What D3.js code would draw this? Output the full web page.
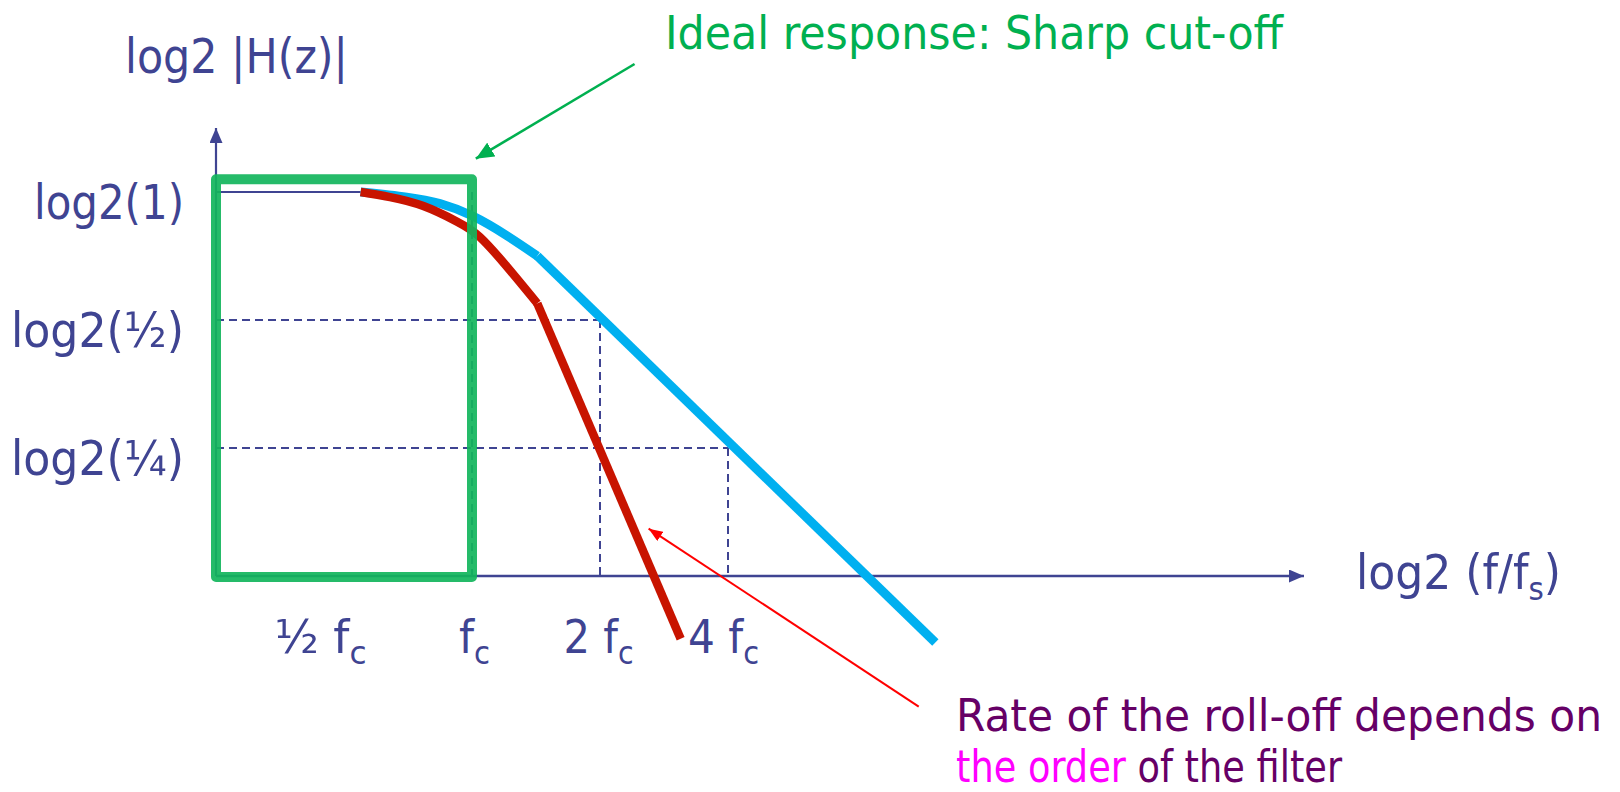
<!DOCTYPE html>
<html><head><meta charset="utf-8">
<script src="https://cdn.jsdelivr.net/npm/d3@7"></script>
<style>html,body{margin:0;padding:0;background:#fff;} svg{display:block;}</style>
</head><body>
<svg id="c" width="1620" height="792"></svg>
<script>
// ---- data (x: octaves relative to f_c, y: log2 |H|) ----
const xTickVals = [-1, 0, 1, 2];
const xTickMain = ["½ f", "f", "2 f", "4 f"];
const xTickSub = "c";
const yTickVals = [0, -1, -2];
const yTickLabels = ["log2(1)", "log2(½)", "log2(¼)"];
const passband = [[-2, 0], [-0.87, 0]];
const blueCurve = [[-0.87, 0], [-0.51, -0.04], [-0.25, -0.09], [0.01, -0.19], [0.27, -0.34], [0.51, -0.5]];
const blueTail = [[0.51, -0.5], [3.62, -3.52]];
const redCurve = [[-0.87, 0], [-0.64, -0.04], [-0.38, -0.11], [-0.12, -0.23], [0.06, -0.35], [0.27, -0.58], [0.51, -0.87]];
const redTail = [[0.51, -0.87], [1.63, -3.49]];
const guideLevels = [-1, -2];
const guideFreqs = [1, 2];
const idealBand = [-2, 0];
const idealTop = 0.1;
const axisMin = [-2, -3];
const axisMax = [6.5, 0.5];
const greenArrow = [[1.27, 1.0], [0.03, 0.26]];
const redArrow = [[3.49, -4.02], [1.38, -2.63]];

// ---- drawing ----
const navy = "#3f4492";
const FONT = "'DejaVu Sans Condensed', 'DejaVu Sans', sans-serif";
const svg = d3.select("#c");
const x = d3.scaleLinear().domain([axisMin[0], axisMax[0]]).range([216, 1304]);
const y = d3.scaleLinear().domain([axisMax[1], axisMin[1]]).range([128, 576]);

const defs = svg.append("defs");
function marker(id, len, wid, color) {
  defs.append("marker").attr("id", id).attr("markerUnits", "userSpaceOnUse")
    .attr("markerWidth", len).attr("markerHeight", wid)
    .attr("refX", len).attr("refY", wid / 2).attr("orient", "auto")
    .append("path").attr("d", `M0,0L${len},${wid / 2}L0,${wid}Z`).attr("fill", color);
}
marker("axArrow", 15, 13, navy);
marker("gArrow", 18, 16, "#00b050");
marker("rArrow", 14, 11, "#ff0000");

// dashed guides
const guides = svg.append("g").attr("stroke", navy).attr("stroke-width", 2)
  .attr("stroke-dasharray", "8,5").attr("fill", "none");
guideLevels.forEach((lv, i) => {
  guides.append("line").attr("x1", x(axisMin[0])).attr("x2", x(guideFreqs[i]))
    .attr("y1", y(lv)).attr("y2", y(lv));
  guides.append("line").attr("x1", x(guideFreqs[i])).attr("x2", x(guideFreqs[i]))
    .attr("y1", y(lv)).attr("y2", y(axisMin[1]));
});
guides.append("line").attr("x1", x(0)).attr("x2", x(0)).attr("y1", y(0)).attr("y2", y(axisMin[1]));

// passband reference line
const lin = d3.line().x(d => x(d[0])).y(d => y(d[1]));
const smooth = d3.line().x(d => x(d[0])).y(d => y(d[1])).curve(d3.curveNatural);
svg.append("path").attr("d", lin(passband)).attr("stroke", navy).attr("stroke-width", 2.2).attr("fill", "none");

// axes lines
svg.append("line").attr("x1", x(axisMin[0])).attr("y1", y(axisMin[1]))
  .attr("x2", x(axisMin[0])).attr("y2", y(axisMax[1]))
  .attr("stroke", navy).attr("stroke-width", 2.2).attr("marker-end", "url(#axArrow)");
svg.append("line").attr("x1", x(axisMin[0])).attr("y1", y(axisMin[1]))
  .attr("x2", x(axisMax[0])).attr("y2", y(axisMin[1]))
  .attr("stroke", navy).attr("stroke-width", 2.6).attr("marker-end", "url(#axArrow)");

// response curves
const blue = "#00b0f0", red = "#c81400";
svg.append("path").attr("d", smooth(blueCurve)).attr("stroke", blue).attr("stroke-width", 9).attr("fill", "none");
svg.append("path").attr("d", lin(blueTail)).attr("stroke", blue).attr("stroke-width", 9).attr("fill", "none");
svg.append("path").attr("d", smooth(redCurve)).attr("stroke", red).attr("stroke-width", 8.5).attr("fill", "none");
svg.append("path").attr("d", lin(redTail)).attr("stroke", red).attr("stroke-width", 8.5).attr("fill", "none");

// ideal response box
svg.append("rect").attr("x", x(idealBand[0])).attr("y", y(idealTop))
  .attr("width", x(idealBand[1]) - x(idealBand[0])).attr("height", y(axisMin[1]) + 1 - y(idealTop))
  .attr("fill", "none").attr("stroke", "#12b55c").attr("stroke-opacity", 0.92)
  .attr("stroke-width", 10).attr("stroke-linejoin", "round");

// annotation arrows
svg.append("path").attr("d", lin(greenArrow)).attr("stroke", "#00b050").attr("stroke-width", 2.6)
  .attr("marker-end", "url(#gArrow)");
svg.append("path").attr("d", lin(redArrow)).attr("stroke", "#ff0000").attr("stroke-width", 2)
  .attr("marker-end", "url(#rArrow)");

// x tick labels
const xLabelDx = [-24, 2, -2, -5];
const xLabelLen = [92, 31, 70, 71];
const gx = svg.append("g").attr("transform", `translate(0,${y(axisMin[1])})`)
  .call(d3.axisBottom(x).tickValues(xTickVals).tickSize(0));
gx.select(".domain").remove();
gx.attr("font-family", FONT).attr("font-size", 47);
gx.selectAll(".tick text").each(function (d, i) {
  const t = d3.select(this);
  t.text(null).attr("y", 77).attr("dy", null).attr("dx", xLabelDx[i]).attr("fill", navy)
    .attr("text-anchor", "middle").attr("textLength", xLabelLen[i]).attr("lengthAdjust", "spacingAndGlyphs");
  t.append("tspan").text(xTickMain[i]);
  t.append("tspan").attr("font-size", 32).attr("dy", 11).text(xTickSub);
});

// y tick labels
const yLabelLen = [150, 173, 173];
const gy = svg.append("g").attr("transform", `translate(184,0)`)
  .call(d3.axisLeft(y).tickValues(yTickVals).tickSize(0));
gy.select(".domain").remove();
gy.attr("font-family", FONT).attr("font-size", 48);
gy.selectAll(".tick text").attr("x", 0).attr("dy", null).attr("y", 26).attr("fill", navy)
  .attr("text-anchor", "end").attr("textLength", (d, i) => yLabelLen[i])
  .attr("lengthAdjust", "spacingAndGlyphs").text((d, i) => yTickLabels[i]);

// axis titles
svg.append("text").attr("x", 125).attr("y", 73).attr("font-family", FONT).attr("font-size", 48)
  .attr("fill", navy).attr("textLength", 223).attr("lengthAdjust", "spacingAndGlyphs").text("log2 |H(z)|");
const xt = svg.append("text").attr("x", 1356).attr("y", 589).attr("font-family", FONT)
  .attr("font-size", 48).attr("fill", navy).attr("textLength", 205).attr("lengthAdjust", "spacingAndGlyphs");
xt.append("tspan").text("log2 (f/f");
xt.append("tspan").attr("font-size", 32).attr("dy", 11).text("s");
xt.append("tspan").attr("dy", -11).text(")");

// annotations text
svg.append("text").attr("x", 665).attr("y", 49).attr("font-family", FONT).attr("font-size", 46)
  .attr("fill", "#00b050").attr("textLength", 618).attr("lengthAdjust", "spacingAndGlyphs")
  .text("Ideal response: Sharp cut-off");
svg.append("text").attr("x", 956).attr("y", 731).attr("font-family", FONT).attr("font-size", 44)
  .attr("fill", "#660066").attr("textLength", 646).attr("lengthAdjust", "spacingAndGlyphs")
  .text("Rate of the roll-off depends on");
const l2 = svg.append("text").attr("x", 956).attr("y", 782).attr("font-family", FONT).attr("font-size", 44)
  .attr("fill", "#660066").attr("textLength", 386).attr("lengthAdjust", "spacingAndGlyphs");
l2.append("tspan").attr("fill", "#ff00ff").text("the order");
l2.append("tspan").text(" of the filter");
</script>
</body></html>
